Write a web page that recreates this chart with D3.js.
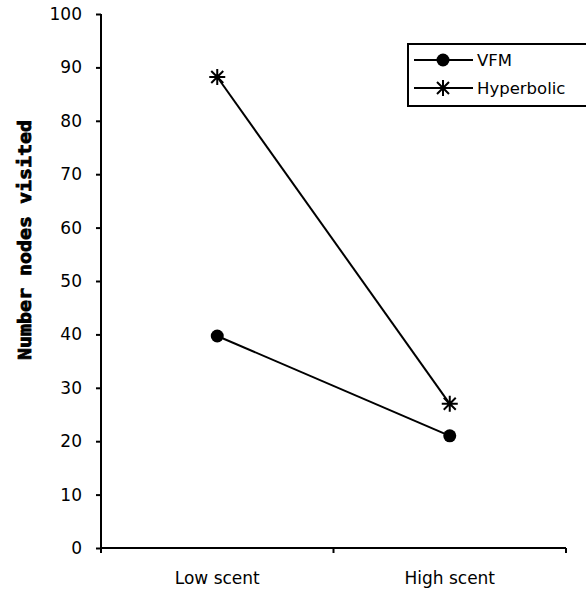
<!DOCTYPE html>
<html><head><meta charset="utf-8">
<script src="https://cdn.jsdelivr.net/npm/d3@7"></script>
<style>body{margin:0;background:#fff}svg{display:block}</style>
</head><body>
<script>
const categories = ["Low scent", "High scent"];
const vfmValues = [39.7, 21.0];
const hyperbolicValues = [88.2, 27.0];
const yTicks = [0,10,20,30,40,50,60,70,80,90,100];
const seriesNames = ["VFM", "Hyperbolic"];

const W = 586, H = 590;
const svg = d3.select("body").append("svg").attr("width", W).attr("height", H);
const x0 = 101, x1 = 566, yTop = 14, yBot = 548;
const y = d3.scaleLinear().domain([0,100]).range([yBot, yTop]);
const x = d3.scaleBand().domain(categories).range([x0, x1]);
const font = "'DejaVu Sans', sans-serif";

// y axis
const yAxis = d3.axisLeft(y).tickValues(yTicks).tickSize(5);
const gy = svg.append("g").attr("transform", `translate(${x0},0)`).call(yAxis)
  .attr("font-family", font).attr("font-size", 17);
gy.select(".domain").attr("stroke","#000").attr("stroke-width",2).attr("d", `M0,${yTop}V${yBot+5}`);
gy.selectAll(".tick line").attr("stroke","#000").attr("stroke-width",2).attr("x1",0).attr("x2",-5);
gy.selectAll(".tick text").attr("x",-19).attr("fill","#000");

// x axis
const gx = svg.append("g").attr("transform", `translate(0,${yBot})`);
gx.append("line").attr("x1",x0).attr("x2",x1).attr("stroke","#000").attr("stroke-width",2);
const bounds = categories.map(c => x(c) + x.bandwidth());
gx.selectAll(".xt").data(bounds).join("line")
  .attr("x1",d=>d).attr("x2",d=>d).attr("y1",0).attr("y2",5).attr("stroke","#000").attr("stroke-width",2);
gx.selectAll(".xl").data(categories).join("text")
  .attr("x", d => x(d) + x.bandwidth()/2).attr("y", 36)
  .attr("text-anchor","middle").attr("font-family",font).attr("font-size",17).text(d=>d);

// y title
svg.append("text").attr("transform","translate(31,240) rotate(-90)")
  .attr("text-anchor","middle").attr("font-family","'DejaVu Sans Mono', monospace")
  .attr("font-weight","bold").attr("font-size",18).attr("textLength",240).attr("lengthAdjust","spacingAndGlyphs")
  .attr("stroke","#000").attr("stroke-width",0.8)
  .text("Number nodes visited");

const cx = d => x(d) + x.bandwidth()/2;
const line = d3.line().x((d,i)=>cx(categories[i])).y(d=>y(d));

function star(g, px, py, r) {
  const p = `M${px-r},${py}H${px+r}M${px},${py-r}V${py+r}M${px-r*0.75},${py-r*0.75}L${px+r*0.75},${py+r*0.75}M${px-r*0.75},${py+r*0.75}L${px+r*0.75},${py-r*0.75}`;
  g.append("path").attr("d",p).attr("stroke","#000").attr("stroke-width",2).attr("fill","none");
}

svg.append("path").datum(vfmValues).attr("d",line).attr("fill","none").attr("stroke","#000").attr("stroke-width",2);
svg.append("path").datum(hyperbolicValues).attr("d",line).attr("fill","none").attr("stroke","#000").attr("stroke-width",2);
vfmValues.forEach((v,i)=> svg.append("circle").attr("cx",cx(categories[i])).attr("cy",y(v)).attr("r",6.5).attr("fill","#000"));
hyperbolicValues.forEach((v,i)=> star(svg, cx(categories[i]), y(v), 8));

// legend
const lg = svg.append("g");
lg.append("rect").attr("x",408).attr("y",44).attr("width",190).attr("height",62).attr("fill","#fff").attr("stroke","#000").attr("stroke-width",2);
const rows = [60, 88];
seriesNames.forEach((n,i)=>{
  lg.append("line").attr("x1",414).attr("x2",473).attr("y1",rows[i]).attr("y2",rows[i]).attr("stroke","#000").attr("stroke-width",2);
  if (i===0) lg.append("circle").attr("cx",443).attr("cy",rows[i]).attr("r",6.5).attr("fill","#000");
  else star(lg, 443, rows[i], 8);
  lg.append("text").attr("x",477).attr("y",rows[i]+6).attr("font-family",font).attr("font-size",16.5).text(n);
});
</script>
</body></html>
